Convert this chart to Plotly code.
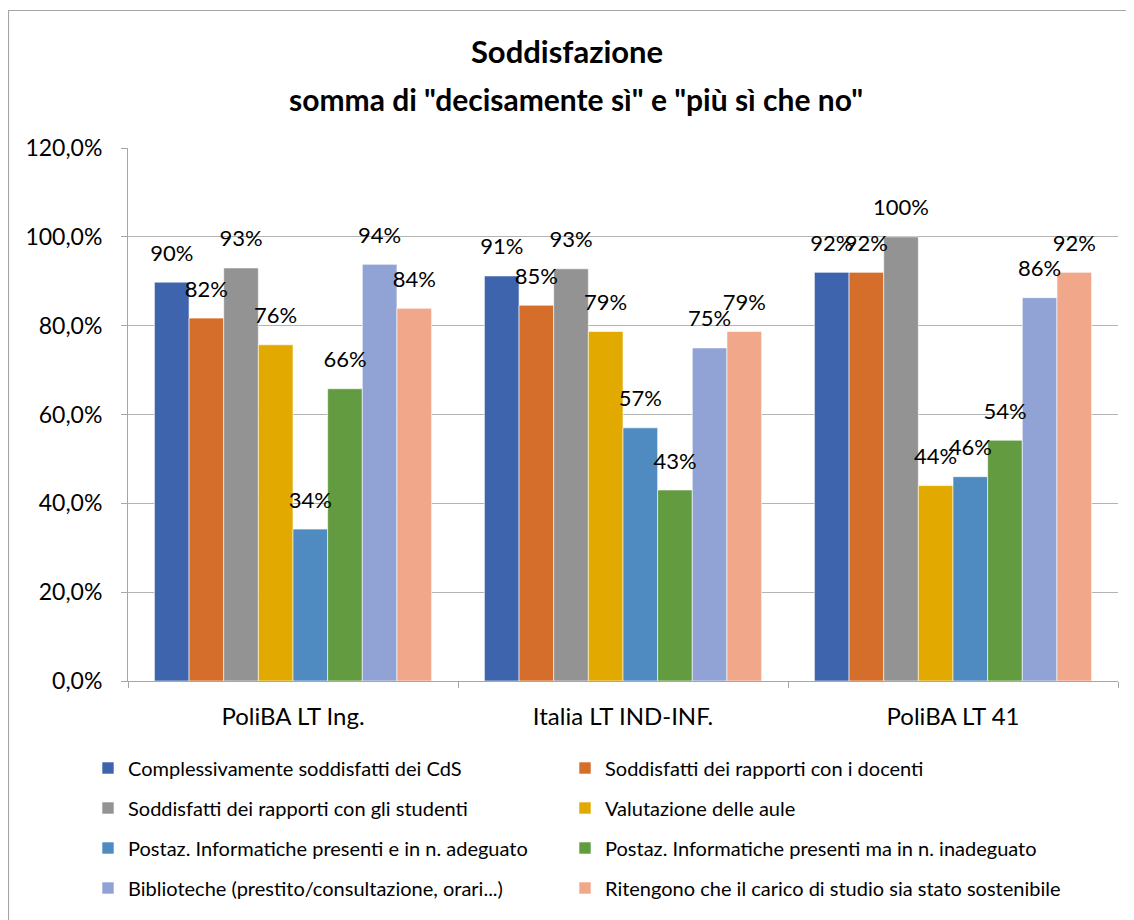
import plotly.graph_objects as go

categories = ["PoliBA LT Ing.", "Italia LT IND-INF.", "PoliBA LT 41"]

series_names = [
    "Complessivamente soddisfatti dei CdS",
    "Soddisfatti dei rapporti con i docenti",
    "Soddisfatti dei rapporti con gli studenti",
    "Valutazione delle aule",
    "Postaz. Informatiche presenti e in n. adeguato",
    "Postaz. Informatiche presenti ma in n. inadeguato",
    "Biblioteche (prestito/consultazione, orari...)",
    "Ritengono che il carico di studio sia stato sostenibile",
]

complessivamente = [0.898, 0.912, 0.920]
docenti = [0.817, 0.846, 0.920]
studenti = [0.930, 0.928, 1.000]
aule = [0.757, 0.787, 0.440]
postaz_adeguato = [0.342, 0.570, 0.460]
postaz_inadeguato = [0.658, 0.430, 0.542]
biblioteche = [0.938, 0.750, 0.863]
carico = [0.839, 0.787, 0.920]

values = [complessivamente, docenti, studenti, aule,
          postaz_adeguato, postaz_inadeguato, biblioteche, carico]

colors = ["#3D64AD", "#D46E2A", "#939393", "#E2AA00",
          "#4F8BC0", "#629B40", "#90A3D4", "#F1A78A"]

FONT = "Lato"

fig = go.Figure()
legend_ids = ["legend" if i == 0 else f"legend{i + 1}" for i in range(len(series_names))]
for name, vals, col, lg in zip(series_names, values, colors, legend_ids):
    fig.add_trace(go.Bar(
        x=categories, y=vals, name=name,
        marker=dict(color=col, line=dict(color="white", width=0.6)),
        legend=lg,
    ))
# data labels (same values), grouped like the bars
for i, (name, vals) in enumerate(zip(series_names, values)):
    fig.add_trace(go.Scatter(
        x=categories, y=vals, name=name, mode="markers+text",
        marker=dict(size=24, opacity=0),
        texttemplate="%{y:.0%}", textposition="top center",
        textfont=dict(size=22, color="#000000", family=FONT),
        showlegend=False, hoverinfo="skip", cliponaxis=False,
    ))

OFF = 8  # page body margin
W, H = 1134 - OFF, 920 - OFF
L, R, T, B = 128 - OFF, 16, 148 - OFF, 239
pw = W - L - R
ph = H - T - B

def px_y(y):
    # absolute screen y -> paper fraction
    return (681 - y) / ph

def px_x(x):
    return (x - 128) / pw

legend_common = dict(orientation="v", xanchor="left", yanchor="middle",
                     font=dict(size=20, family=FONT, color="#000000"),
                     bgcolor="rgba(0,0,0,0)", itemwidth=30)

row_y = [768, 808, 848, 888]
col_x = [88, 565]
legend_layout = {}
for i, lg in enumerate(legend_ids):
    legend_layout[lg] = dict(legend_common, x=px_x(col_x[i % 2]), y=px_y(row_y[i // 2]))

fig.update_layout(
    width=W, height=H,
    margin=dict(l=L, r=R, t=T, b=B),
    paper_bgcolor="white", plot_bgcolor="white",
    separators=",.",
    barmode="group", bargap=0.16, bargroupgap=0,
    scattermode="group", scattergap=0.16,
    font=dict(family=FONT, color="#000000"),
    title=dict(text="<b>Soddisfazione</b>", x=px_x(567), xanchor="center",
               xref="paper", y=1 - (52 - OFF) / H, yanchor="middle",
               font=dict(size=31, family=FONT, color="#000000")),
    annotations=[dict(text="<b>somma di \"decisamente sì\" e \"più sì che no\"</b>",
                      xref="paper", yref="paper", x=px_x(576), y=px_y(99),
                      xanchor="center", yanchor="middle", showarrow=False,
                      font=dict(size=30, family=FONT, color="#000000"))],
    shapes=[dict(type="rect", xref="paper", yref="paper",
                 x0=px_x(8.5), x1=px_x(1140), y0=px_y(930), y1=px_y(10.5),
                 line=dict(color="#A6A6A6", width=1.2), fillcolor="rgba(0,0,0,0)",
                 layer="below")],
    xaxis=dict(showline=True, linecolor="#A6A6A6", linewidth=1,
               ticks="outside", tickson="boundaries", ticklen=6, tickcolor="#A6A6A6",
               ticklabelstandoff=14,
               tickfont=dict(size=24, family=FONT, color="#000000"),
               showgrid=False),
    yaxis=dict(range=[0, 1.2], dtick=0.2, tickformat=".1%",
               showline=True, linecolor="#A6A6A6", linewidth=1,
               ticks="outside", ticklen=6, tickcolor="#A6A6A6",
               ticklabelstandoff=14,
               showgrid=True, gridcolor="#B3B3B3", gridwidth=1,
               zeroline=False,
               tickfont=dict(size=23, family=FONT, color="#000000")),
    **legend_layout,
)

fig.write_html("out.html")
